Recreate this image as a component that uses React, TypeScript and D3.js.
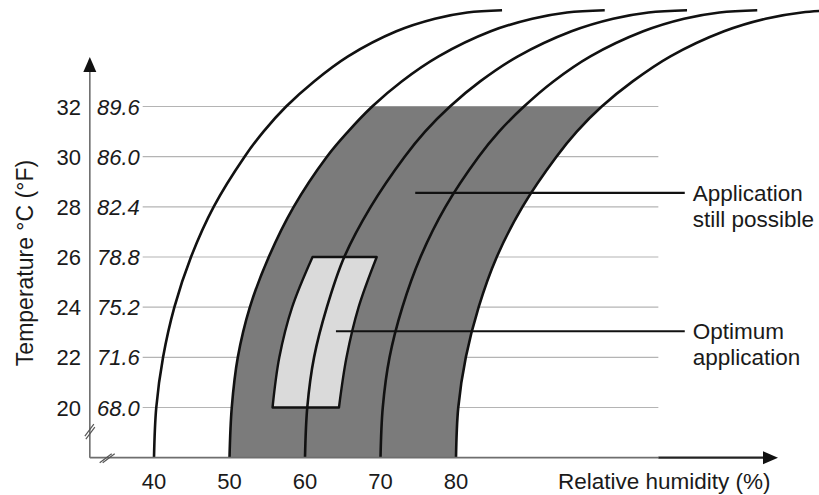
import React from "react";
import * as d3 from "d3";

// ---- data ----
const tempTicksC = [20, 22, 24, 26, 28, 30, 32];
const tempTicksF = ["68.0", "71.6", "75.2", "78.8", "82.4", "86.0", "89.6"];
const humidityTicks = [40, 50, 60, 70, 80];

// temperatures (°C) at which each humidity curve was sampled
const curveTemps = [18, 20, 22, 24, 26, 28, 30, 31, 32, 33, 34, 35, 35.5, 35.75, 35.84];
// relative humidity (%) position of each curve at those temperatures
const curve40 = [40, 40.3, 41.2, 42.7, 44.9, 47.9, 52.0, 54.5, 57.5, 61.2, 65.7, 72.1, 77.2, 81.5, 86.1];
const curve50 = [50, 50.3, 51.1, 52.7, 55.2, 58.5, 62.9, 65.7, 68.9, 72.8, 77.7, 84.6, 90.1, 94.7, 99.7];
const curve60 = [60, 60.3, 61.2, 62.9, 65.2, 68.7, 73.2, 75.9, 79.2, 83.2, 88.2, 95.3, 100.8, 105.5, 110.6];
const curve70 = [70, 70.3, 71.2, 72.9, 75.3, 78.6, 83.0, 85.7, 89.0, 92.9, 97.8, 104.8, 110.2, 114.9, 119.9];
const curve80 = [80, 80.3, 81.3, 83.0, 85.4, 88.8, 93.3, 96.0, 99.3, 103.4, 108.4, 115.5, 121.0, 125.8, 130.9];
const curves = [curve40, curve50, curve60, curve70, curve80];

// "Application still possible" band: between curve 50 and curve 80, up to 32 °C
const bandTopTemp = 32;
const bandBottomTemp = 18;

// "Optimum application" region
const optTemps = [20, 22, 24, 26];
const optLeft = [55.7, 56.6, 58.3, 61.0];
const optRight = [64.5, 65.5, 67.1, 69.5];

// annotations
const annotations = [
  { lines: ["Application", "still possible"], temp: 28.56, fromRH: 74.6 },
  { lines: ["Optimum", "application"], temp: 23.04, fromRH: 64.1 },
];

const W = 819;
const H = 495;
const FONT = "'Liberation Sans', Arial, Helvetica, sans-serif";

export default function App() {
  const x = d3.scaleLinear().domain([40, 80]).range([154, 456]);
  const y = d3.scaleLinear().domain([20, 32]).range([407.5, 106.5]);

  const axisRH = 31.5; // where the y axis sits
  const axisT = 18; // where the x axis sits
  const x0 = x(axisRH);
  const y0 = y(axisT);
  const gridX1 = x(38.5);
  const gridX2 = x(106.8);
  const leaderEndRH = 110.3;

  const smooth = d3.curveCatmullRom.alpha(0.5);

  const line = d3
    .line<[number, number]>()
    .x((d) => x(d[1]))
    .y((d) => y(d[0]))
    .curve(smooth);

  const band = d3
    .area<number>()
    .y((i) => y(curveTemps[i]))
    .x0((i) => x(curve50[i]))
    .x1((i) => x(curve80[i]))
    .curve(smooth);

  const opt = d3
    .area<number>()
    .y((i) => y(optTemps[i]))
    .x0((i) => x(optLeft[i]))
    .x1((i) => x(optRight[i]))
    .curve(smooth);

  const idx = curveTemps.map((_, i) => i);
  const optIdx = optTemps.map((_, i) => i);

  const xArrowTip = 778;
  const yArrowTip = 57;

  return (
    <svg
      width={W}
      height={H}
      viewBox={`0 0 ${W} ${H}`}
      style={{ position: "absolute", left: 0, top: 0, background: "#fff" }}
      fontFamily={FONT}
    >
      <defs>
        <clipPath id="bandClip">
          <rect x={0} y={y(bandTopTemp)} width={W} height={y(bandBottomTemp) - y(bandTopTemp)} />
        </clipPath>
      </defs>

      {/* grid lines */}
      {tempTicksC.map((t) => (
        <line key={t} x1={gridX1} x2={gridX2} y1={y(t)} y2={y(t)} stroke="#b4b4b4" strokeWidth={1.2} />
      ))}

      {/* application still possible band */}
      <path d={band(idx) || ""} fill="#7b7b7b" clipPath="url(#bandClip)" />

      {/* optimum region */}
      <path d={opt(optIdx) || ""} fill="#dadada" stroke="#111" strokeWidth={2.4} strokeLinejoin="round" />

      {/* humidity curves */}
      {curves.map((c, k) => (
        <path
          key={k}
          d={line(curveTemps.map((t, i) => [t, c[i]] as [number, number])) || ""}
          fill="none"
          stroke="#111"
          strokeWidth={2.6}
        />
      ))}

      {/* axes */}
      <line x1={x0} x2={x0} y1={y0} y2={yArrowTip + 12} stroke="#6e6e6e" strokeWidth={1.6} />
      <path d={`M${x0},${yArrowTip} L${x0 - 6.5},${yArrowTip + 15} L${x0 + 6.5},${yArrowTip + 15} Z`} fill="#111" />
      <line x1={x0} x2={gridX2} y1={y0} y2={y0} stroke="#6e6e6e" strokeWidth={1.8} />
      <line x1={gridX2} x2={xArrowTip - 12} y1={y0} y2={y0} stroke="#222" strokeWidth={2.2} />
      <path d={`M${xArrowTip},${y0} L${xArrowTip - 15},${y0 - 6.5} L${xArrowTip - 15},${y0 + 6.5} Z`} fill="#111" />

      {/* axis break marks */}
      <g stroke="#555" strokeWidth={1.2}>
        <line x1={x0 - 5} x2={x0 + 4} y1={y(19.1) + 6} y2={y(19.1) - 6} />
        <line x1={x0 - 4} x2={x0 + 5} y1={y(19.1) + 9} y2={y(19.1) - 3} />
        <line x1={x(33.6) - 6} x2={x(33.6) + 6} y1={y0 + 5} y2={y0 - 4} />
        <line x1={x(33.6) - 3} x2={x(33.6) + 9} y1={y0 + 5} y2={y0 - 4} />
      </g>

      {/* y tick labels */}
      {tempTicksC.map((t, i) => (
        <g key={t}>
          <text x={81} y={y(t) + 8} textAnchor="end" fontSize={22} fill="#1a1a1a">
            {t}
          </text>
          <text x={97} y={y(t) + 8} textAnchor="start" fontSize={22} fontStyle="italic" fill="#1a1a1a">
            {tempTicksF[i]}
          </text>
        </g>
      ))}

      {/* x tick labels */}
      {humidityTicks.map((h) => (
        <text key={h} x={x(h)} y={489} textAnchor="middle" fontSize={22} fill="#1a1a1a">
          {h}
        </text>
      ))}

      {/* axis titles */}
      <text x={558} y={489} fontSize={22.5} fill="#1a1a1a">
        Relative humidity (%)
      </text>
      <text
        transform={`translate(33,263) rotate(-90)`}
        textAnchor="middle"
        fontSize={23}
        fill="#1a1a1a"
      >
        Temperature °C (°F)
      </text>

      {/* annotations */}
      {annotations.map((a, k) => (
        <g key={k}>
          <line
            x1={x(a.fromRH)}
            x2={x(leaderEndRH)}
            y1={y(a.temp)}
            y2={y(a.temp)}
            stroke="#111"
            strokeWidth={2.2}
          />
          {a.lines.map((l, j) => (
            <text key={j} x={x(leaderEndRH) + 8} y={y(a.temp) + 8 + j * 26} fontSize={22.5} fill="#1a1a1a">
              {l}
            </text>
          ))}
        </g>
      ))}
    </svg>
  );
}
